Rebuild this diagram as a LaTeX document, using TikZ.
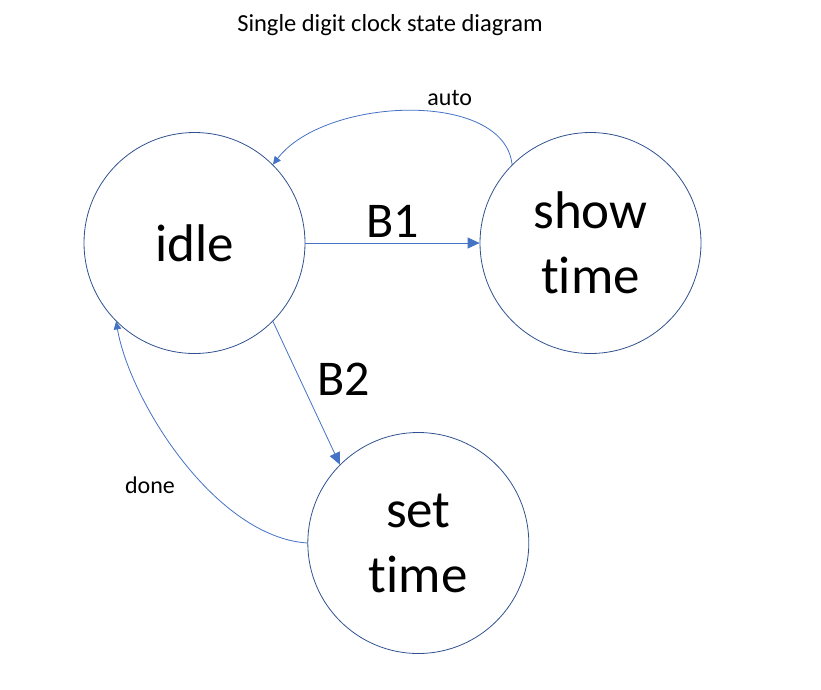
\documentclass[tikz,border=0pt]{standalone}
\usepackage{fontspec}
\setmainfont{Carlito}[Ligatures={NoCommon}]
\usepackage{xcolor}
\usetikzlibrary{arrows.meta, calc}
\definecolor{ringblue}{HTML}{2F528F}
\definecolor{arrowblue}{HTML}{4472C4}

\begin{document}
\begin{tikzpicture}[x=1pt, y=-1pt,
    state/.style={draw=ringblue, line width=0.8pt, circle, minimum size=221pt, inner sep=0pt, align=center, font=\fontsize{53}{65}\selectfont},
    trans/.style={draw=arrowblue, line width=0.8pt, -{Triangle[length=12pt, width=11pt]}, arrowblue},
    loopback/.style={draw=arrowblue, line width=0.8pt, -{Triangle[length=8pt, width=7.5pt]}, arrowblue},
    biglbl/.style={anchor=base, font=\fontsize{50}{60}\selectfont},
    smalllbl/.style={anchor=base, font=\fontsize{24}{29}\selectfont}]
  \useasboundingbox (0,0) rectangle (821,689);
  \node[anchor=base, font=\fontsize{24.5}{29}\selectfont] (title) at (390,31) {Single digit clock state diagram};

  \node[state] (idle) at (194.5,243) {idle};
  \node[state] (showtime) at (590.5,243) {show\\time};
  \node[state] (settime) at (418.3,543) {set\\time};

  \draw[trans] (idle.east) -- (showtime.west);
  \draw[trans] (idle.-45) -- (settime.135);
  \draw[loopback] (showtime.135) .. controls +(-8,-75) and +(52,-68) .. (idle.45);
  \draw[loopback] (settime.west) .. controls +(-92,-6) and +(14,80) .. (idle.225);

  \node[biglbl] (b1) at (392.5,237.7) {B1};
  \node[biglbl] (b2) at (344,395) {B2};
  \node[smalllbl] (auto) at (449.7,105) {auto};
  \node[smalllbl] (done) at (150,493) {done};
\end{tikzpicture}
\end{document}
